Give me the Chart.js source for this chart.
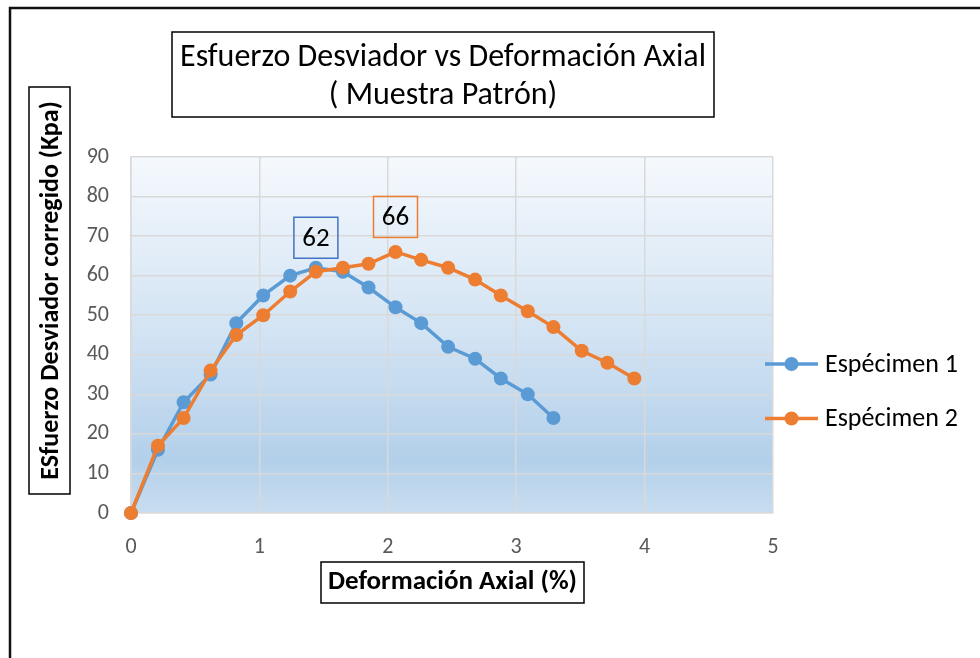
<!DOCTYPE html>
<html>
<head>
<meta charset="utf-8">
<script src="https://cdn.jsdelivr.net/npm/chart.js@4.4.1/dist/chart.umd.min.js"></script>
<style>
  html, body { margin: 0; padding: 0; background: #fff; }
  canvas { display: block; }
</style>
</head>
<body>
<canvas id="chart" width="980" height="658"></canvas>
<script>
const FONT = "Carlito, Calibri, Lato, sans-serif";

// texts
const chartTitle = ["Esfuerzo Desviador vs Deformación Axial", "( Muestra Patrón)"];
const xTitle = "Deformación Axial (%)";
const yTitle = "ESfuerzo Desviador corregido (Kpa)";
const seriesNames = ["Espécimen 1", "Espécimen 2"];

// data
const strain1 = [0, 0.21, 0.41, 0.62, 0.82, 1.03, 1.24, 1.44, 1.65, 1.85, 2.06, 2.26, 2.47, 2.68, 2.88, 3.09, 3.29];
const stress1 = [0, 16, 28, 35, 48, 55, 60, 62, 61, 57, 52, 48, 42, 39, 34, 30, 24];
const strain2 = [0, 0.21, 0.41, 0.62, 0.82, 1.03, 1.24, 1.44, 1.65, 1.85, 2.06, 2.26, 2.47, 2.68, 2.88, 3.09, 3.29, 3.51, 3.71, 3.92];
const stress2 = [0, 17, 24, 36, 45, 50, 56, 61, 62, 63, 66, 64, 62, 59, 55, 51, 47, 41, 38, 34];

// tick labels
const xTicks = [0, 1, 2, 3, 4, 5];
const yTicks = [0, 10, 20, 30, 40, 50, 60, 70, 80, 90];

const colors = ["#5b9bd5", "#ed7d31"];

function toPoints(xs, ys) {
    return xs.map((x, i) => ({ x: x, y: ys[i] }));
}

// draw a text inside a black frame
function boxedText(ctx, lines, box, font, lineGap, dy) {
    ctx.strokeStyle = "#000";
    ctx.lineWidth = 1.5;
    ctx.strokeRect(box.x, box.y, box.w, box.h);
    ctx.fillStyle = "#000";
    ctx.font = font;
    ctx.textAlign = "center";
    ctx.textBaseline = "middle";
    const cx = box.x + box.w / 2;
    const cy = box.y + box.h / 2 + (dy || 0);
    lines.forEach((t, i) => {
        ctx.fillText(t, cx, cy + (i - (lines.length - 1) / 2) * lineGap);
    });
}

const decorations = {
    id: "decorations",
    beforeDraw(chart) {
        const { ctx, chartArea: a } = chart;
        ctx.save();
        ctx.fillStyle = "#fff";
        ctx.fillRect(0, 0, chart.width, chart.height);
        // plot area gradient like the Excel fill
        const g = ctx.createLinearGradient(0, a.top, 0, a.bottom);
        g.addColorStop(0, "#f5f9fd");
        g.addColorStop(0.5, "#d2e3f3");
        g.addColorStop(0.85, "#b3d0ea");
        g.addColorStop(1, "#c8ddf0");
        ctx.fillStyle = g;
        ctx.fillRect(a.left, a.top, a.right - a.left, a.bottom - a.top);
        ctx.restore();
    },
    afterDatasetsDraw(chart) {
        const ctx = chart.ctx;
        ctx.save();
        // boxed label over the peak of each series
        chart.data.datasets.forEach((ds, di) => {
            const vals = ds.data.map(p => p.y);
            const i = vals.indexOf(Math.max(...vals));
            const pt = chart.getDatasetMeta(di).data[i];
            const cx = pt.x, cy = pt.y - ds.labelOffset;
            ctx.strokeStyle = ds.labelBorder;
            ctx.lineWidth = 1.5;
            ctx.strokeRect(cx - 22, cy - 20.5, 44, 41);
            ctx.fillStyle = "#000";
            ctx.font = "27px " + FONT;
            ctx.textAlign = "center";
            ctx.textBaseline = "middle";
            ctx.fillText(String(vals[i]), cx, cy + 1);
        });
        ctx.restore();
    },
    afterDraw(chart) {
        const ctx = chart.ctx;
        ctx.save();
        // outer frame
        ctx.strokeStyle = "#111";
        ctx.lineWidth = 2.5;
        ctx.strokeRect(10, 8, 1000, 700);

        boxedText(ctx, chartTitle, { x: 172, y: 32, w: 542, h: 85 }, "32px " + FONT, 38, 2);
        boxedText(ctx, [xTitle], { x: 321, y: 562, w: 263, h: 41 }, "bold 27px " + FONT, 0, 0);

        // rotated y title
        ctx.strokeStyle = "#000";
        ctx.lineWidth = 1.5;
        ctx.strokeRect(29, 87, 41, 407);
        ctx.translate(50, 290.5);
        ctx.rotate(-Math.PI / 2);
        ctx.fillStyle = "#000";
        ctx.font = "bold 26px " + FONT;
        ctx.textAlign = "center";
        ctx.textBaseline = "middle";
        ctx.fillText(yTitle, 0, 1);
        ctx.setTransform(1, 0, 0, 1, 0, 0);

        // legend
        chart.data.datasets.forEach((ds, i) => {
            const y = 364 + i * 54.5;
            ctx.strokeStyle = ds.borderColor;
            ctx.lineWidth = 3.5;
            ctx.beginPath();
            ctx.moveTo(765, y);
            ctx.lineTo(818, y);
            ctx.stroke();
            ctx.fillStyle = ds.borderColor;
            ctx.beginPath();
            ctx.arc(791.5, y, 7, 0, Math.PI * 2);
            ctx.fill();
            ctx.fillStyle = "#000";
            ctx.font = "26px " + FONT;
            ctx.textAlign = "left";
            ctx.textBaseline = "middle";
            ctx.fillText(ds.label, 825, y + 1);
        });
        ctx.restore();
    }
};

new Chart(document.getElementById("chart"), {
    type: "line",
    data: {
        datasets: [
            {
                label: seriesNames[0],
                data: toPoints(strain1, stress1),
                borderColor: colors[0],
                backgroundColor: colors[0],
                labelBorder: "#4472c4",
                labelOffset: 30,
                order: 2,
                clip: false,
            },
            {
                label: seriesNames[1],
                data: toPoints(strain2, stress2),
                borderColor: colors[1],
                backgroundColor: colors[1],
                labelBorder: colors[1],
                labelOffset: 35,
                order: 1,
                clip: false,
            },
        ],
    },
    options: {
        responsive: false,
        animation: false,
        layout: { padding: { top: 157, right: 207, bottom: 0, left: 0 } },
        elements: {
            line: { borderWidth: 3.5, tension: 0 },
            point: { radius: 7, borderWidth: 0, hoverRadius: 7 },
        },
        plugins: {
            legend: { display: false },
            tooltip: { enabled: false },
        },
        scales: {
            x: {
                type: "linear",
                min: xTicks[0],
                max: xTicks[xTicks.length - 1],
                afterBuildTicks: (s) => { s.ticks = xTicks.map(v => ({ value: v })); },
                afterFit: (s) => { s.height = 145; },
                grid: { color: "#d9d9d9", lineWidth: 1.5, drawTicks: false },
                border: { color: "#d9d9d9", width: 1.5 },
                ticks: { color: "#595959", padding: 21, font: { family: FONT, size: 22 } },
            },
            y: {
                min: yTicks[0],
                max: yTicks[yTicks.length - 1],
                afterBuildTicks: (s) => { s.ticks = yTicks.map(v => ({ value: v })); },
                afterFit: (s) => { s.width = 131; },
                grid: { color: "#d9d9d9", lineWidth: 1.5, drawTicks: false },
                border: { color: "#d9d9d9", width: 1.5 },
                ticks: { color: "#595959", padding: 22, font: { family: FONT, size: 22 } },
            },
        },
    },
    plugins: [decorations],
});
</script>
</body>
</html>
